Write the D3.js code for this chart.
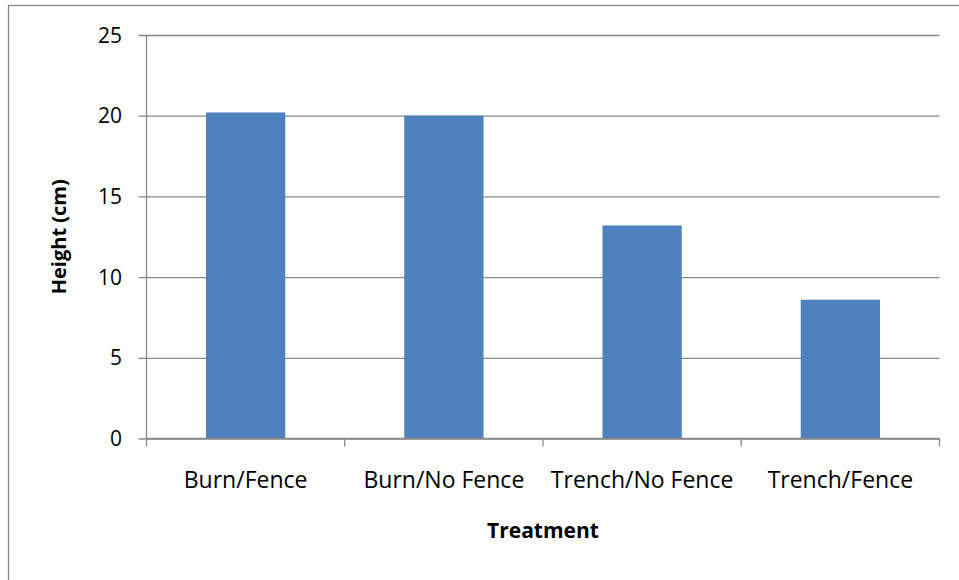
<!DOCTYPE html>
<html>
<head>
<meta charset="utf-8">
<script src="https://cdn.jsdelivr.net/npm/d3@7"></script>
<style>
  html, body { margin: 0; padding: 0; background: #fff; }
  svg { display: block; }
</style>
</head>
<body>
<svg id="chart" width="959" height="580"></svg>
<script>
// Mean plant height by treatment
const categories = ["Burn/Fence", "Burn/No Fence", "Trench/No Fence", "Trench/Fence"];
const heights = [20.2, 20.0, 13.2, 8.6];
const yTicks = [0, 5, 10, 15, 20, 25];
const xTitle = "Treatment";
const yTitle = "Height (cm)";

const svg = d3.select("#chart");
const W = 959, H = 580;
const plotLeft = 146.5, plotRight = 939.5, plotTop = 35, plotBottom = 438.5;
const font = "'Open Sans', 'Noto Sans', sans-serif";

// outer chart frame
svg.append("rect")
  .attr("x", 8.5).attr("y", 5.5)
  .attr("width", W + 10).attr("height", H + 10)
  .attr("fill", "#fff").attr("stroke", "#888").attr("stroke-width", 1.3);

const x = d3.scaleBand().domain(categories).range([plotLeft, plotRight]).paddingInner(0.6).paddingOuter(0.3);
const xEdges = d3.scaleLinear().domain([0, categories.length]).range([plotLeft, plotRight]);
const y = d3.scaleLinear().domain([0, 25]).range([plotBottom, plotTop]);

// horizontal gridlines with small outside ticks
const yAxis = d3.axisLeft(y).tickValues(yTicks).tickSize(-(plotRight - plotLeft)).tickPadding(0).tickFormat("");
const gy = svg.append("g").attr("transform", `translate(${plotLeft},0)`).call(yAxis);
gy.select(".domain").remove();
gy.selectAll(".tick line")
  .attr("x1", -8).attr("stroke", "#878787").attr("stroke-width", 1.3);

// y tick labels
svg.append("g").selectAll("text").data(yTicks).join("text")
  .attr("x", 122).attr("y", d => y(d)).attr("dy", "0.36em")
  .attr("text-anchor", "end")
  .attr("font-family", font).attr("font-size", 21).attr("fill", "#000")
  .text(d => d);

// y axis line
svg.append("line")
  .attr("x1", plotLeft).attr("x2", plotLeft).attr("y1", plotTop).attr("y2", plotBottom)
  .attr("stroke", "#878787").attr("stroke-width", 1.3);

// bars
svg.append("g").selectAll("rect").data(heights).join("rect")
  .attr("x", (d, i) => x(categories[i]))
  .attr("width", x.bandwidth())
  .attr("y", d => y(d))
  .attr("height", d => y(0) - y(d))
  .attr("fill", "#4F81BD");

// x axis baseline and category separators
svg.append("line")
  .attr("x1", plotLeft).attr("x2", plotRight).attr("y1", plotBottom).attr("y2", plotBottom)
  .attr("stroke", "#878787").attr("stroke-width", 1.3);
svg.append("g").selectAll("line").data(d3.range(categories.length + 1)).join("line")
  .attr("x1", d => xEdges(d)).attr("x2", d => xEdges(d))
  .attr("y1", plotBottom).attr("y2", plotBottom + 8)
  .attr("stroke", "#878787").attr("stroke-width", 1.3);

// category labels
svg.append("g").selectAll("text").data(categories).join("text")
  .attr("x", d => x(d) + x.bandwidth() / 2).attr("y", 488)
  .attr("text-anchor", "middle")
  .attr("font-family", font).attr("font-size", 23).attr("fill", "#000")
  .text(d => d);

// axis titles
svg.append("text")
  .attr("x", (plotLeft + plotRight) / 2).attr("y", 538)
  .attr("text-anchor", "middle")
  .attr("font-family", font).attr("font-size", 21).attr("font-weight", "bold")
  .text(xTitle);
svg.append("text")
  .attr("transform", `translate(66,${(plotTop + plotBottom) / 2}) rotate(-90)`)
  .attr("text-anchor", "middle")
  .attr("font-family", font).attr("font-size", 20).attr("font-weight", "bold")
  .text(yTitle);
</script>
</body>
</html>
